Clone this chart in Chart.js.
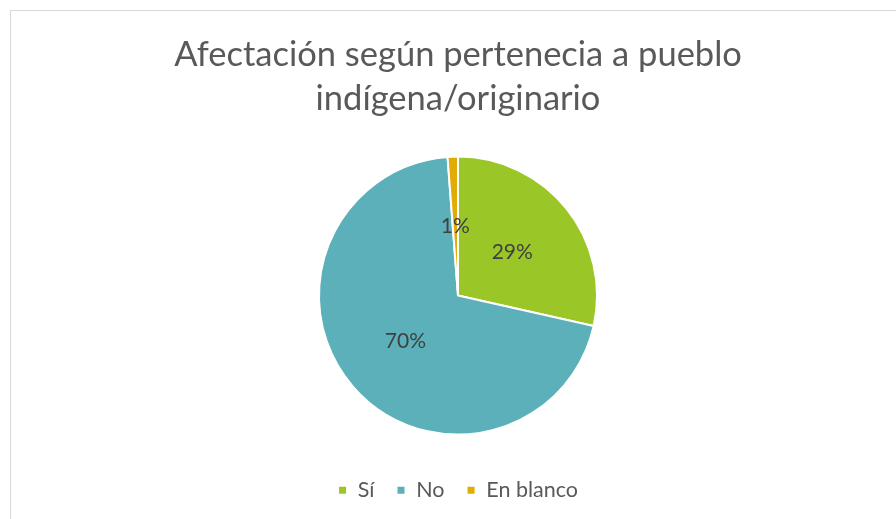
<!DOCTYPE html>
<html>
<head>
<meta charset="utf-8">
<script src="https://cdn.jsdelivr.net/npm/chart.js@4/dist/chart.umd.min.js"></script>
<style>
  html, body { margin: 0; padding: 0; background: #fff; overflow: hidden; }
  #frame { position: absolute; left: 10px; top: 10px; width: 1000px; height: 600px;
           border-left: 1px solid #d9d9d9; border-top: 1px solid #d9d9d9; }
  #wrap { position: absolute; left: 0; top: 0; width: 896px; height: 519px; }
</style>
</head>
<body>
<div id="frame"></div>
<div id="wrap"><canvas id="chart" width="896" height="519"></canvas></div>
<script>
const categories = ["Sí", "No", "En blanco"]
const shares = [28.5, 70.3, 1.2]
const sliceColors = ["#9bc628", "#5bb0ba", "#e2ac06"]
const titleLines = ["Afectación según pertenecia a pueblo", "indígena/originario"]

const textColor = "#595959"
const fontFamily = "Lato, 'Open Sans', sans-serif"

// percentage labels in the middle of each slice
const sliceLabels = {
    id: "sliceLabels",
    afterDatasetsDraw(chart) {
        const ctx = chart.ctx
        const meta = chart.getDatasetMeta(0)
        ctx.save()
        ctx.font = "21px " + fontFamily
        ctx.fillStyle = "#404040"
        ctx.textAlign = "center"
        ctx.textBaseline = "middle"
        meta.data.forEach((arc, i) => {
            const p = arc.tooltipPosition()
            ctx.fillText(Math.round(shares[i]) + "%", p.x, p.y)
        })
        ctx.restore()
    }
}

new Chart(document.getElementById("chart"), {
    type: "pie",
    data: {
        labels: categories,
        datasets: [{
            data: shares,
            backgroundColor: sliceColors,
            borderColor: "#ffffff",
            borderWidth: 2,
            radius: 139
        }]
    },
    options: {
        responsive: false,
        animation: false,
        layout: { padding: { left: 20, top: 0, right: 0, bottom: 8 } },
        plugins: {
            title: {
                display: true,
                text: titleLines,
                color: textColor,
                font: { family: fontFamily, size: 34.5, weight: "normal", lineHeight: 1.3 },
                padding: { top: 32, bottom: 12 }
            },
            legend: {
                position: "bottom",
                labels: {
                    color: textColor,
                    font: { family: fontFamily, size: 21.5 },
                    boxWidth: 9,
                    boxHeight: 9,
                    padding: 22
                }
            },
            tooltip: { enabled: false }
        }
    },
    plugins: [sliceLabels]
})
</script>
</body>
</html>
